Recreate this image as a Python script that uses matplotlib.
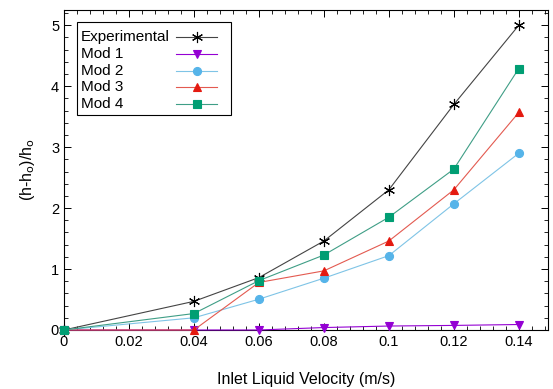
import numpy as np
import matplotlib
matplotlib.use('Agg')
import matplotlib.pyplot as plt
from matplotlib.patches import Rectangle
from matplotlib.ticker import MultipleLocator

velocity = [0, 0.04, 0.06, 0.08, 0.1, 0.12, 0.14]
experimental = [0, 0.47, 0.86, 1.46, 2.30, 3.70, 5.00]
mod1 = [0, 0.0, 0.0, 0.04, 0.065, 0.075, 0.09]
mod2 = [0, 0.20, 0.505, 0.85, 1.22, 2.07, 2.90]
mod3 = [0, 0.0, 0.78, 0.97, 1.46, 2.30, 3.57]
mod4 = [0, 0.27, 0.81, 1.23, 1.85, 2.64, 4.29]

# name, values, marker colour, line colour, marker, size, edge width
series = [
    ('Experimental', experimental, 'black', '#444444', (6, 2, 0), 8, 0.8),
    ('Mod 1', mod1, '#9400D3', '#9400D3', 'v', 5.5, 0.8),
    ('Mod 2', mod2, '#56B4E9', '#7fc4e6', 'o', 5.8, 0.8),
    ('Mod 3', mod3, '#E41A10', '#e35a50', '^', 5.5, 0.8),
    ('Mod 4', mod4, '#009E73', '#3f9e86', 's', 5.8, 0.8),
]

plt.rcParams['font.family'] = ['Liberation Sans', 'DejaVu Sans']

fig = plt.figure(figsize=(5.53, 3.89), dpi=100)
ax = fig.add_axes([0.1157, 0.1517, 0.8753, 0.8225])

for name, vals, mcol, lcol, marker, ms, mew in series:
    ax.plot(velocity, vals, color=lcol, lw=0.8, marker=marker, markersize=ms,
            markerfacecolor=mcol, markeredgecolor=mcol, markeredgewidth=mew,
            label=name, clip_on=False, zorder=3)

ax.set_xlim(0, 0.149)
ax.set_ylim(0, 5.25)
ax.xaxis.set_minor_locator(MultipleLocator(0.004))
ax.yaxis.set_major_locator(MultipleLocator(1))
ax.yaxis.set_minor_locator(MultipleLocator(0.2))
ax.set_xticks([0, 0.02, 0.04, 0.06, 0.08, 0.1, 0.12, 0.14])
ax.set_xticklabels(['0', '0.02', '0.04', '0.06', '0.08', '0.1', '0.12', '0.14'])
ax.tick_params(which='both', direction='in', top=True, right=True, labelsize=10.5)
ax.tick_params(which='major', length=5, width=0.7)
ax.tick_params(which='minor', length=3, width=0.6)
for sp in ax.spines.values():
    sp.set_linewidth(0.8)

ax.set_xlabel('Inlet Liquid Velocity (m/s)', fontsize=11.5, labelpad=17)
ax.set_ylabel('(h-h$_\\mathrm{o}$)/h$_\\mathrm{o}$', fontsize=11.5, labelpad=10)

# gnuplot style key: label left, sample on the right
ax.add_patch(Rectangle((0.027, 0.672), 0.318, 0.291, transform=ax.transAxes,
                       facecolor='white', edgecolor='black', lw=0.8, zorder=5))
for i, (name, vals, mcol, lcol, marker, ms, mew) in enumerate(series):
    y = 0.9156 - i * 0.0525
    ax.text(0.035, y, name, transform=ax.transAxes, fontsize=11,
            va='center', ha='left', zorder=6)
    ax.plot([0.231, 0.316], [y, y], transform=ax.transAxes, color=lcol,
            lw=0.8, zorder=6, clip_on=False)
    ax.plot([0.275], [y], transform=ax.transAxes, marker=marker, markersize=ms,
            color=mcol, markeredgewidth=mew, zorder=6, clip_on=False)

fig.savefig('out.png', dpi=100)
